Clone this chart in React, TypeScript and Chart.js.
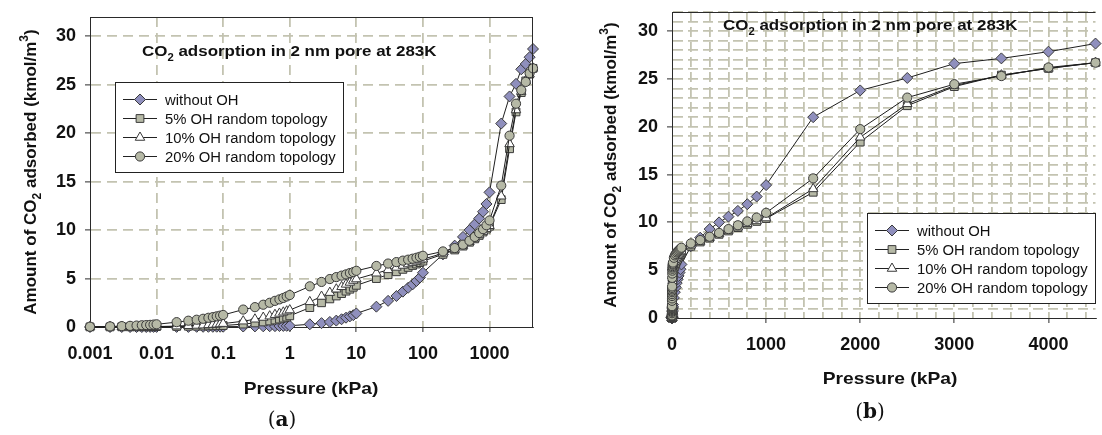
import React, { useEffect, useRef } from 'react';
import { Chart, registerables } from 'chart.js';

Chart.register(...registerables);

// ---------------- data ----------------
const pressure = [
  0.001, 0.002, 0.003, 0.004, 0.005, 0.006, 0.007, 0.008, 0.009,
  0.01, 0.02, 0.03, 0.04, 0.05, 0.06, 0.07, 0.08, 0.09,
  0.1, 0.2, 0.3, 0.4, 0.5, 0.6, 0.7, 0.8, 0.9,
  1, 2, 3, 4, 5, 6, 7, 8, 9,
  10, 20, 30, 40, 50, 60, 70, 80, 90,
  100, 200, 300, 400, 500, 600, 700, 800, 900,
  1000, 1500, 2000, 2500, 3000, 3500, 4000, 4500,
];

const withoutOH = [
  0, 0, 0, 0, 0, 0, 0, 0.01, 0.01,
  0.01, 0.01, 0.01, 0.02, 0.02, 0.02, 0.02, 0.03, 0.03,
  0.03, 0.05, 0.06, 0.07, 0.08, 0.09, 0.1, 0.11, 0.12,
  0.13, 0.28, 0.4, 0.52, 0.66, 0.8, 0.96, 1.1, 1.22,
  1.4, 2.1, 2.7, 3.2, 3.65, 4.05, 4.4, 4.75, 5.1,
  5.6, 7.5, 8.4, 9.3, 10.0, 10.6, 11.2, 11.9, 12.7,
  13.9, 21.0, 23.8, 25.1, 26.6, 27.15, 27.85, 28.7,
];

const oh5 = [
  0.01, 0.01, 0.02, 0.02, 0.02, 0.03, 0.03, 0.03, 0.04,
  0.04, 0.06, 0.08, 0.09, 0.1, 0.11, 0.12, 0.13, 0.14,
  0.15, 0.3, 0.42, 0.52, 0.62, 0.72, 0.82, 0.92, 1.02,
  1.15, 2.0, 2.5, 2.9, 3.2, 3.45, 3.7, 3.9, 4.1,
  4.3, 5.0, 5.4, 5.7, 5.95, 6.15, 6.35, 6.5, 6.65,
  6.8, 7.5, 7.95, 8.35, 8.75, 9.1, 9.45, 9.8, 10.1,
  10.4, 13.15, 18.4, 22.2, 24.2, 25.4, 26.1, 26.7,
];

const oh10 = [
  0.01, 0.01, 0.02, 0.02, 0.03, 0.03, 0.03, 0.04, 0.04,
  0.05, 0.09, 0.13, 0.16, 0.19, 0.22, 0.25, 0.28, 0.31,
  0.35, 0.6, 0.8, 0.98, 1.12, 1.27, 1.4, 1.52, 1.63,
  1.75, 2.6, 3.15, 3.55, 3.9, 4.15, 4.4, 4.6, 4.8,
  4.95, 5.55, 5.9, 6.15, 6.35, 6.5, 6.65, 6.78, 6.9,
  7.0, 7.6, 8.0, 8.4, 8.8, 9.15, 9.5, 9.85, 10.15,
  10.45, 13.5, 18.9, 22.4, 24.3, 25.4, 26.1, 26.7,
];

const oh20 = [
  0.03, 0.06, 0.09, 0.12, 0.15, 0.18, 0.2, 0.22, 0.25,
  0.28, 0.5, 0.65, 0.75, 0.85, 0.95, 1.02, 1.1, 1.17,
  1.24, 1.8, 2.05, 2.3, 2.5, 2.7, 2.85, 3.0, 3.15,
  3.3, 4.2, 4.65, 4.95, 5.15, 5.3, 5.43, 5.57, 5.67,
  5.8, 6.3, 6.55, 6.7, 6.85, 6.95, 7.05, 7.15, 7.25,
  7.35, 7.8, 8.15, 8.5, 8.9, 9.3, 9.7, 10.1, 10.5,
  11.0, 14.6, 19.75, 23.05, 24.45, 25.3, 26.2, 26.7,
];

const seriesLabels = ['without OH', '5% OH random topology', '10% OH random topology', '20% OH random topology'];
const seriesValues = [withoutOH, oh5, oh10, oh20];

const logTicksA = [0.001, 0.01, 0.1, 1, 10, 100, 1000];
const yTickLabels = [0, 5, 10, 15, 20, 25, 30];
const xTickLabelsB = [0, 1000, 2000, 3000, 4000];
const xMinorStepB = 200;
const yMinorStepB = 1;

// ---------------- styles ----------------
const FONT = '"Liberation Sans", Arial, Helvetica, sans-serif';
const GRID = '#c3c3b1';
const AXIS = '#2a2a2a';
const markerStyles = [
  { pointStyle: 'rectRot', radius: 5.5, fill: '#8f8fbd' },
  { pointStyle: 'rect', radius: 5.5, fill: '#b6b9a6' },
  { pointStyle: 'triangle', radius: 5.5, fill: '#ffffff' },
  { pointStyle: 'circle', radius: 4.6, fill: '#b6b9a6' },
];

type Seg = { t: string; s?: 'sub' | 'sup' };
const titleSegs: Seg[] = [{ t: 'CO' }, { t: '2', s: 'sub' }, { t: ' adsorption in 2 nm pore at 283K' }];
const yTitleSegs: Seg[] = [{ t: 'Amount of CO' }, { t: '2', s: 'sub' }, { t: ' adsorbed (kmol/m' }, { t: '3', s: 'sup' }, { t: ')' }];
const xTitleSegs: Seg[] = [{ t: 'Pressure (kPa)' }];

function drawRich(ctx: CanvasRenderingContext2D, segs: Seg[], x: number, y: number, size: number, bold: boolean, align: 'left' | 'center', sx: number) {
  const w = bold ? 'bold ' : '';
  const main = `${w}${size}px ${FONT}`;
  const small = `${w}${Math.round(size * 0.68)}px ${FONT}`;
  ctx.save();
  let total = 0;
  const ws = segs.map((s) => {
    ctx.font = s.s ? small : main;
    const m = ctx.measureText(s.t).width;
    total += m;
    return m;
  });
  ctx.translate(x, y);
  ctx.scale(sx, 1);
  let cx = align === 'center' ? -total / 2 : 0;
  const base = size * 0.36;
  ctx.textBaseline = 'alphabetic';
  ctx.textAlign = 'left';
  ctx.fillStyle = '#111';
  segs.forEach((s, i) => {
    ctx.font = s.s ? small : main;
    const dy = s.s === 'sub' ? size * 0.28 : s.s === 'sup' ? -size * 0.45 : 0;
    ctx.fillText(s.t, cx, base + dy);
    cx += ws[i];
  });
  ctx.restore();
}

function drawMarker(ctx: CanvasRenderingContext2D, style: string, x: number, y: number, r: number, fill: string, stroke: string) {
  ctx.save();
  ctx.beginPath();
  if (style === 'circle') {
    ctx.arc(x, y, r, 0, Math.PI * 2);
  } else if (style === 'rect') {
    const s = Math.SQRT1_2 * r;
    ctx.rect(x - s, y - s, 2 * s, 2 * s);
  } else if (style === 'rectRot') {
    ctx.moveTo(x - r, y);
    ctx.lineTo(x, y - r);
    ctx.lineTo(x + r, y);
    ctx.lineTo(x, y + r);
    ctx.closePath();
  } else if (style === 'triangle') {
    let rad = 0;
    ctx.moveTo(x + Math.sin(rad) * r, y - Math.cos(rad) * r);
    rad += (2 * Math.PI) / 3;
    ctx.lineTo(x + Math.sin(rad) * r, y - Math.cos(rad) * r);
    rad += (2 * Math.PI) / 3;
    ctx.lineTo(x + Math.sin(rad) * r, y - Math.cos(rad) * r);
    ctx.closePath();
  }
  ctx.fillStyle = fill;
  ctx.fill();
  ctx.lineWidth = 1;
  ctx.strokeStyle = stroke;
  ctx.stroke();
  ctx.restore();
}

const annotPlugin = {
  id: 'annot',
  afterDraw(chart: any, _args: any, o: any) {
    const ctx: CanvasRenderingContext2D = chart.ctx;
    const a = chart.chartArea;
    ctx.save();
    // frame
    ctx.strokeStyle = AXIS;
    ctx.lineWidth = 1;
    ctx.beginPath();
    ctx.moveTo(a.left, Math.round(a.top) + 0.5);
    ctx.lineTo(a.right, Math.round(a.top) + 0.5);
    if (o.rightFrame) {
      ctx.moveTo(Math.round(a.right) - 0.5, a.top);
      ctx.lineTo(Math.round(a.right) - 0.5, a.bottom);
    }
    ctx.stroke();
    // legend
    const L = o.legend;
    ctx.fillStyle = '#fff';
    ctx.fillRect(L.x, L.y, L.w, L.h);
    ctx.strokeStyle = '#222';
    ctx.strokeRect(L.x + 0.5, L.y + 0.5, L.w, L.h);
    chart.data.datasets.forEach((ds: any, i: number) => {
      const yy = L.y + 17.5 + i * 19;
      ctx.beginPath();
      ctx.moveTo(L.x + 8, yy);
      ctx.lineTo(L.x + 42, yy);
      ctx.strokeStyle = '#222';
      ctx.lineWidth = 1;
      ctx.stroke();
      drawMarker(ctx, ds.pointStyle, L.x + 25, yy, ds.pointRadius, ds.pointBackgroundColor, ds.pointBorderColor);
      drawRich(ctx, [{ t: ds.label }], L.x + 50, yy, 14, false, 'left', 1.06);
    });
    // titles
    drawRich(ctx, titleSegs, o.title.x, o.title.y, 15, true, 'left', 1.13);
    drawRich(ctx, xTitleSegs, o.xTitle.x, o.xTitle.y, 17, true, 'center', 1.13);
    ctx.save();
    ctx.translate(o.yTitle.x, o.yTitle.y);
    ctx.rotate(-Math.PI / 2);
    drawRich(ctx, yTitleSegs, 0, 0, 17, true, 'center', 1);
    ctx.restore();
    // panel tag
    ctx.textBaseline = 'middle';
    ctx.textAlign = 'left';
    ctx.fillStyle = '#111';
    const tf = '"DejaVu Serif", "Liberation Serif", serif';
    ctx.font = `20px ${tf}`;
    const wp = ctx.measureText('(').width;
    ctx.font = `bold 20px ${tf}`;
    const wl = ctx.measureText(o.tag).width;
    const tw = wp * 2 + wl;
    let tx = o.tagPos.x - tw / 2;
    ctx.font = `20px ${tf}`;
    ctx.fillText('(', tx, o.tagPos.y);
    tx += wp;
    ctx.font = `bold 20px ${tf}`;
    ctx.fillText(o.tag, tx, o.tagPos.y);
    tx += wl;
    ctx.font = `20px ${tf}`;
    ctx.fillText(')', tx, o.tagPos.y);
    ctx.restore();
  },
};

function makeDatasets() {
  return seriesLabels.map((label, i) => ({
    label,
    data: pressure.map((p, j) => ({ x: p, y: seriesValues[i][j] })),
    borderColor: '#1e1e1e',
    borderWidth: 1,
    pointStyle: markerStyles[i].pointStyle,
    pointRadius: markerStyles[i].radius,
    pointBackgroundColor: markerStyles[i].fill,
    pointBorderColor: '#3a3a3a',
    pointBorderWidth: 1,
    fill: false,
    tension: 0,
    clip: false,
    order: 4 - i,
  }));
}

const tickFont = { family: FONT, size: 18, weight: 'bold' as const };

function configA(): any {
  return {
    type: 'line',
    data: { datasets: makeDatasets() },
    options: {
      animation: false,
      responsive: true,
      maintainAspectRatio: false,
      layout: { padding: { left: 0, right: 17, top: 17, bottom: 0 } },
      plugins: {
        legend: { display: false },
        tooltip: { enabled: false },
        annot: {
          rightFrame: true,
          legend: { x: 115, y: 82, w: 228, h: 90 },
          title: { x: 142, y: 51 },
          xTitle: { x: 311, y: 388 },
          yTitle: { x: 30, y: 172 },
          tag: 'a',
          tagPos: { x: 282, y: 421 },
        },
      },
      scales: {
        x: {
          type: 'logarithmic',
          min: 0.001,
          max: 4500,
          afterBuildTicks: (s: any) => { s.ticks = logTicksA.map((v) => ({ value: v })); },
          afterFit: (s: any) => { s.height = 108; s.paddingLeft = 0; s.paddingRight = 0; },
          ticks: { callback: (v: any) => String(v), font: tickFont, color: '#111', padding: 11, autoSkip: false, maxRotation: 0, minRotation: 0 },
          grid: {
            color: (c: any) => (c.tick && c.tick.value === 0.001 ? 'rgba(0,0,0,0)' : GRID),
            lineWidth: 1.8,
            tickLength: 5,
            tickColor: AXIS,
            tickWidth: 1,
          },
          border: { display: true, color: AXIS, width: 1, dash: [10, 6] },
        },
        y: {
          type: 'linear',
          min: 0,
          max: 32,
          afterBuildTicks: (s: any) => { s.ticks = yTickLabels.map((v) => ({ value: v })); },
          afterFit: (s: any) => { s.width = 90; s.paddingTop = 0; s.paddingBottom = 0; },
          ticks: { callback: (v: any) => String(v), font: tickFont, color: '#111', padding: 9, autoSkip: false },
          grid: {
            color: (c: any) => (c.tick && c.tick.value === 0 ? 'rgba(0,0,0,0)' : GRID),
            lineWidth: 1.8,
            tickLength: 5,
            tickColor: AXIS,
            tickWidth: 1,
          },
          border: { display: true, color: AXIS, width: 1, dash: [10, 6] },
        },
      },
    },
    plugins: [annotPlugin],
  };
}

function configB(): any {
  return {
    type: 'line',
    data: { datasets: makeDatasets() },
    options: {
      animation: false,
      responsive: true,
      maintainAspectRatio: false,
      layout: { padding: { left: 0, right: 0, top: 12, bottom: 0 } },
      plugins: {
        legend: { display: false },
        tooltip: { enabled: false },
        annot: {
          rightFrame: false,
          legend: { x: 317, y: 213, w: 228, h: 90 },
          title: { x: 173, y: 25 },
          xTitle: { x: 340, y: 378 },
          yTitle: { x: 60, y: 165 },
          tag: 'b',
          tagPos: { x: 320, y: 413 },
        },
      },
      scales: {
        x: {
          type: 'linear',
          min: 0,
          max: 4500,
          afterBuildTicks: (s: any) => {
            const t = [];
            for (let v = 0; v <= 4500; v += xMinorStepB) t.push({ value: v });
            s.ticks = t;
          },
          afterFit: (s: any) => { s.height = 117; s.paddingLeft = 0; s.paddingRight = 0; },
          ticks: {
            callback: (v: any) => (xTickLabelsB.includes(v) ? String(v) : ''),
            font: tickFont, color: '#111', padding: 11, autoSkip: false, maxRotation: 0, minRotation: 0,
          },
          grid: {
            color: (c: any) => (c.tick && c.tick.value === 0 ? 'rgba(0,0,0,0)' : GRID),
            lineWidth: 1.8,
            tickLength: 5,
            tickColor: (c: any) => (c.tick && xTickLabelsB.includes(c.tick.value) ? AXIS : 'rgba(0,0,0,0)'),
            tickWidth: 1,
          },
          border: { display: true, color: AXIS, width: 1, dash: [10, 5] },
        },
        y: {
          type: 'linear',
          min: 0,
          max: 32,
          afterBuildTicks: (s: any) => {
            const t = [];
            for (let v = 0; v <= 32; v += yMinorStepB) t.push({ value: v });
            s.ticks = t;
          },
          afterFit: (s: any) => { s.width = 122; s.paddingTop = 0; s.paddingBottom = 0; },
          ticks: {
            callback: (v: any) => (yTickLabels.includes(v) ? String(v) : ''),
            font: tickFont, color: '#111', padding: 9, autoSkip: false,
          },
          grid: {
            color: (c: any) => (c.tick && c.tick.value === 0 ? 'rgba(0,0,0,0)' : GRID),
            lineWidth: 1.8,
            tickLength: 5,
            tickColor: (c: any) => (c.tick && yTickLabels.includes(c.tick.value) ? AXIS : 'rgba(0,0,0,0)'),
            tickWidth: 1,
          },
          border: { display: true, color: AXIS, width: 1, dash: [10, 5] },
        },
      },
    },
    plugins: [annotPlugin],
  };
}

export default function App() {
  const refA = useRef<HTMLCanvasElement>(null);
  const refB = useRef<HTMLCanvasElement>(null);
  useEffect(() => {
    const a = new Chart(refA.current as HTMLCanvasElement, configA());
    const b = new Chart(refB.current as HTMLCanvasElement, configB());
    return () => {
      a.destroy();
      b.destroy();
    };
  }, []);
  return (
    <div style={{ position: 'absolute', left: 0, top: 0, width: 1102, height: 435, overflow: 'hidden', background: '#fff' }}>
      <div style={{ position: 'absolute', left: 0, top: 0, width: 550, height: 435 }}>
        <canvas ref={refA} />
      </div>
      <div style={{ position: 'absolute', left: 550, top: 0, width: 552, height: 435 }}>
        <canvas ref={refB} />
      </div>
    </div>
  );
}
